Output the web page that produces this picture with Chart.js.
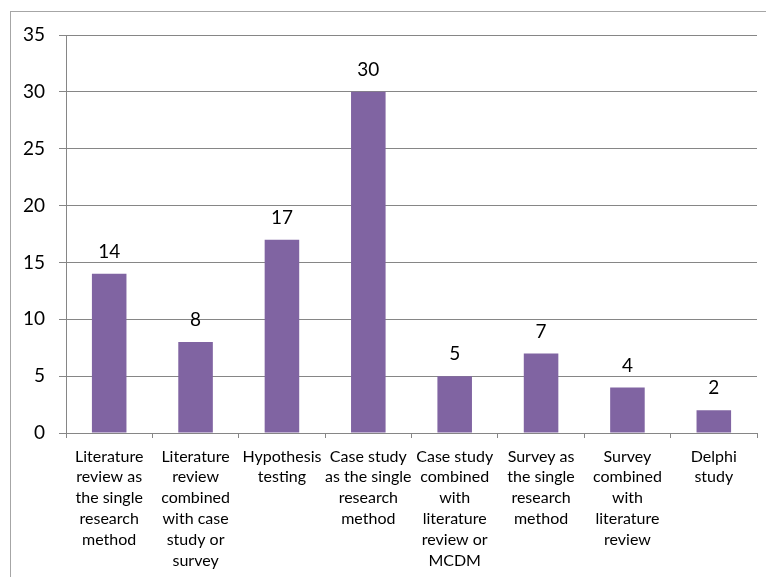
<!DOCTYPE html>
<html>
<head>
<meta charset="utf-8">
<script src="https://cdn.jsdelivr.net/npm/chart.js@4"></script>
<style>
  html, body { margin: 0; padding: 0; background: #fff; overflow: hidden; }
  #wrap { position: relative; width: 766px; height: 577px; }
  #frame { position: absolute; left: 10px; top: 11px; width: 800px; height: 600px; border: 1px solid #a6a6a6; box-sizing: border-box; }
  canvas { position: absolute; left: 0; top: 0; }
</style>
</head>
<body>
<div id="wrap">
  <div id="frame"></div>
  <canvas id="c" width="766" height="577"></canvas>
</div>
<script>
const categories = [
  ["Literature", "review as", "the single", "research", "method"],
  ["Literature", "review", "combined", "with case", "study or", "survey"],
  ["Hypothesis", "testing"],
  ["Case study", "as the single", "research", "method"],
  ["Case study", "combined", "with", "literature", "review or", "MCDM"],
  ["Survey as", "the single", "research", "method"],
  ["Survey", "combined", "with", "literature", "review"],
  ["Delphi", "study"]
];
const counts = [14, 8, 17, 30, 5, 7, 4, 2];
const yTicks = { min: 0, max: 35, step: 5 };

const FONT = "Lato, 'Open Sans', sans-serif";
const GRID = '#868686';

const valueLabels = {
  id: 'valueLabels',
  afterDatasetsDraw(chart) {
    const ctx = chart.ctx;
    const meta = chart.getDatasetMeta(0);
    ctx.save();
    ctx.fillStyle = '#000';
    ctx.font = '19px ' + FONT;
    ctx.textAlign = 'center';
    ctx.textBaseline = 'middle';
    meta.data.forEach((bar, i) => {
      ctx.fillText(String(counts[i]), bar.x, bar.y - 22);
    });
    ctx.restore();
  }
};

new Chart(document.getElementById('c'), {
  type: 'bar',
  data: {
    labels: categories,
    datasets: [{
      data: counts,
      backgroundColor: '#8064A2',
      borderWidth: 0,
      barPercentage: 0.4,
      categoryPercentage: 1.0
    }]
  },
  options: {
    responsive: false,
    animation: false,
    devicePixelRatio: 1,
    layout: { padding: { left: 10, right: 9, top: 35, bottom: 0 } },
    plugins: { legend: { display: false }, tooltip: { enabled: false } },
    scales: {
      x: {
        grid: { display: true, drawOnChartArea: false, drawTicks: true, tickLength: 5, color: GRID, lineWidth: 1 },
        border: { display: true, color: GRID, width: 1 },
        ticks: { color: '#000', font: { family: FONT, size: 16, lineHeight: 1.3 }, padding: 8, maxRotation: 0, autoSkip: false },
        afterFit(s) { s.height = 144; }
      },
      y: {
        min: yTicks.min, max: yTicks.max,
        grid: { color: GRID, lineWidth: 1, drawTicks: true, tickLength: 7 },
        border: { display: true, color: GRID, width: 1 },
        ticks: { stepSize: yTicks.step, color: '#000', font: { family: FONT, size: 19 }, padding: 14 },
        afterFit(s) { s.width = 56; }
      }
    }
  },
  plugins: [valueLabels]
});
</script>
</body>
</html>
